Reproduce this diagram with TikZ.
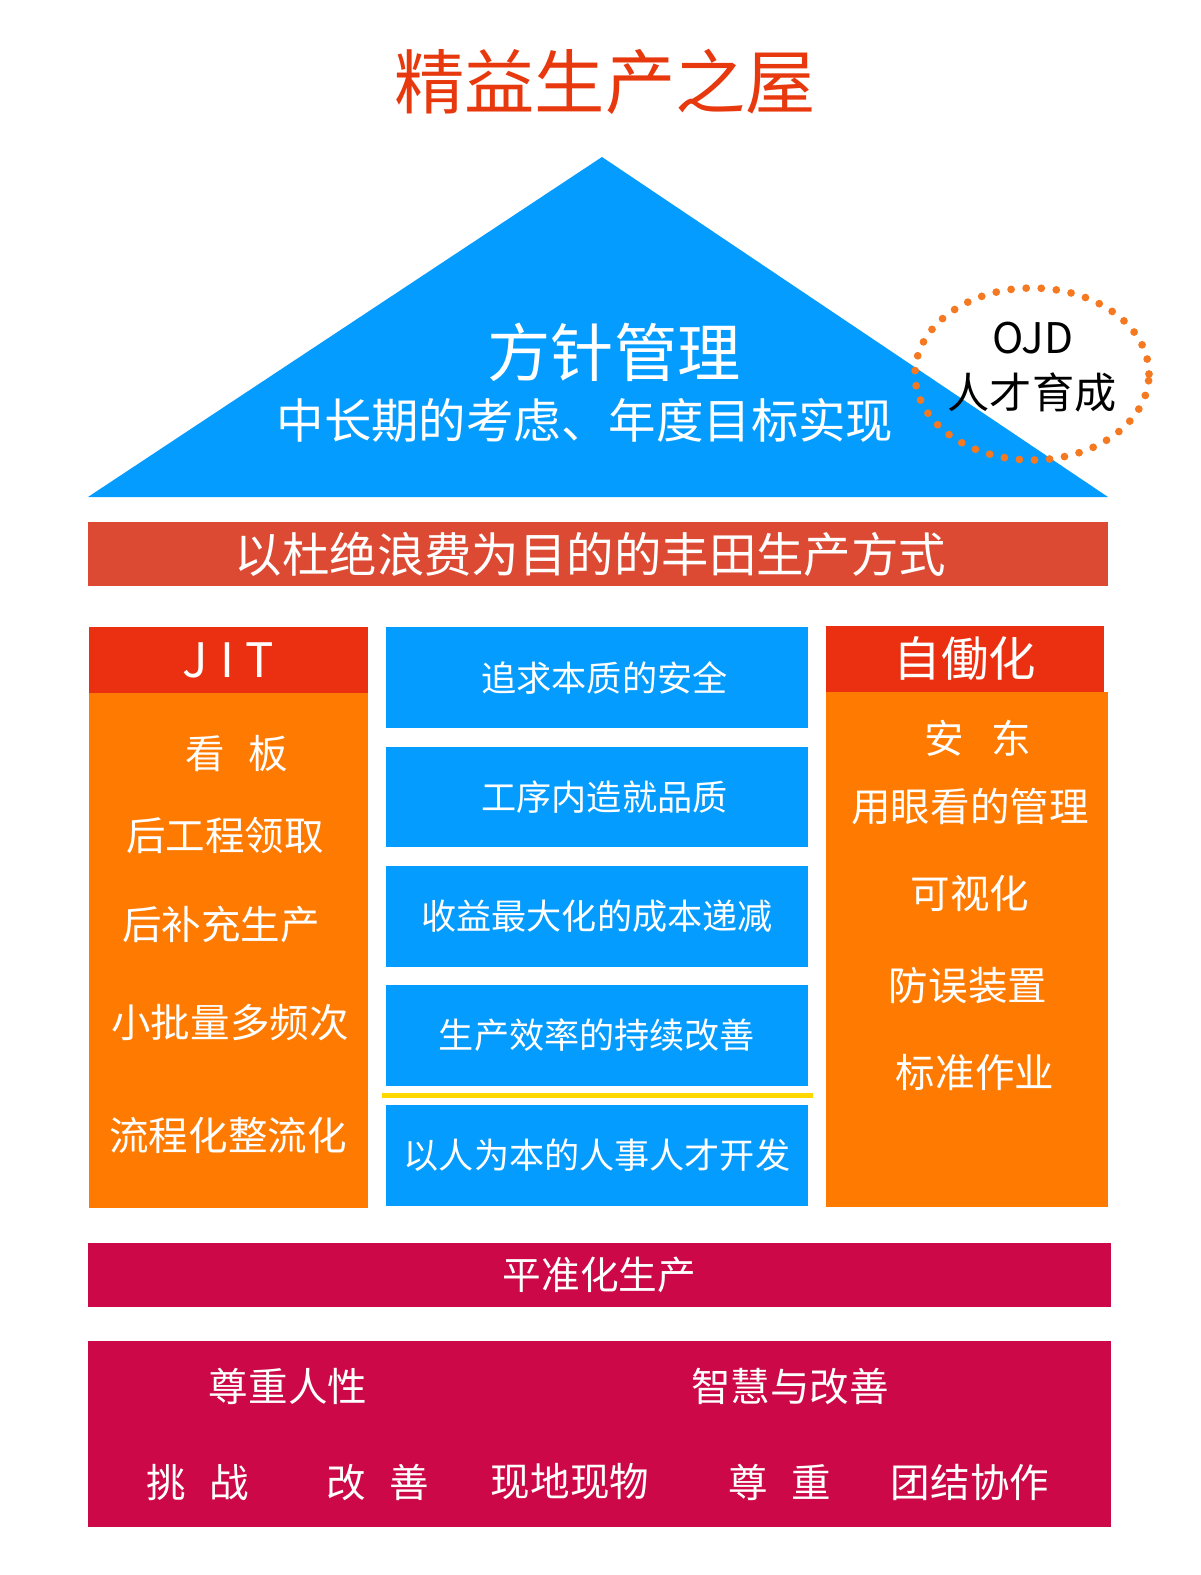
\documentclass[tikz,border=0pt]{standalone}
\usepackage{fontspec}
\setmainfont{Noto Sans CJK SC}
\usepackage{xcolor}
\usepackage{tikz}
\usetikzlibrary{positioning, shapes.geometric}
\definecolor{titlered}{HTML}{E8380D}
\definecolor{roofblue}{HTML}{049CFF}
\definecolor{beamred}{HTML}{DC4A33}
\definecolor{headred}{HTML}{EB3011}
\definecolor{pillarorange}{HTML}{FF7A00}
\definecolor{basered}{HTML}{CC0848}
\definecolor{dotorange}{HTML}{F47920}
\definecolor{lineyellow}{HTML}{FFD800}

\begin{document}
\begin{tikzpicture}[x=0.02cm, y=-0.02cm,
    every node/.style={inner sep=0pt, outer sep=0pt},
    blockbox/.style={
        rectangle, draw=none, text=white,
    },
    pillarhead/.style={
        blockbox, fill=headred,
        minimum width=5.58cm, minimum height=1.32cm,
        font=\fontsize{27}{30}\selectfont,
    },
    pillarbody/.style={
        blockbox, fill=pillarorange,
        minimum width=5.6cm, minimum height=10.3cm,
    },
    pillaritem/.style={
        text=white, font=\fontsize{22.5}{26}\selectfont,
    },
    corebox/.style={
        blockbox, fill=roofblue,
        minimum width=8.44cm, minimum height=2.02cm,
        font=\fontsize{20}{24}\selectfont,
    },
    basebar/.style={
        blockbox, fill=basered,
        minimum width=20.46cm,
    },
    baseitem/.style={
        text=white, font=\fontsize{22.5}{26}\selectfont,
    },
]
\useasboundingbox[fill=white] (0,0) rectangle (1200,1575);

% ── Title ──────────────────────────────────────────────────────────────
\node[text=titlered, font=\fontsize{40}{44}\selectfont] (title) at (605,82) {精益生产之屋};

% ── Roof ───────────────────────────────────────────────────────────────
\coordinate (apex) at (602,157);
\coordinate (roofL) at (88,497);
\coordinate (roofR) at (1108,497);
\fill[roofblue] (roofL) -- (apex) -- (roofR) -- cycle;

\node[text=white, font=\fontsize{36}{40}\selectfont] (policy) at (614,352) {方针管理};
\node[text=white, font=\fontsize{27}{30}\selectfont] (policysub) at (585,420) {中长期的考虑、年度目标实现};

% ── OJD ring ───────────────────────────────────────────────────────────
\node[ellipse, draw=dotorange, line width=4.4pt, line cap=round,
      dash pattern=on 0pt off 8.6pt,
      minimum width=4.68cm, minimum height=3.44cm] (ojd) at (1032,374) {};
\node[font=\fontsize{24}{28}\selectfont] (ojdtop) at (1033,338) {OJD};
\node[font=\fontsize{24}{28}\selectfont] (ojdbot) at (1032,392) {人才育成};

% ── Beam ───────────────────────────────────────────────────────────────
\node[blockbox, fill=beamred, minimum width=20.4cm, minimum height=1.28cm,
      font=\fontsize{27}{30}\selectfont] (beam) at (598,554) {\hspace*{-0.3cm}以杜绝浪费为目的的丰田生产方式};

% ── Left pillar: JIT ───────────────────────────────────────────────────
\node[pillarhead] (jithead) at (228.5,660) {\addfontfeature{LetterSpace=25}JIT};
\node[pillarbody, anchor=north, minimum width=5.58cm] (jitbody) at (jithead.south) {};
\node[pillaritem] (jit1) at (237,754) {看\hspace{0.6em}板};
\node[pillaritem] (jit2) at (225,836) {后工程领取};
\node[pillaritem] (jit3) at (221,925) {后补充生产};
\node[pillaritem] (jit4) at (230,1023) {小批量多频次};
\node[pillaritem] (jit5) at (228,1135) {流程化整流化};

% ── Centre boxes ───────────────────────────────────────────────────────
\node[corebox] (core1) at (597,677.5) {\hspace*{0.3cm}追求本质的安全};
\node[corebox] (core2) at (597,797) {\hspace*{0.3cm}工序内造就品质};
\node[corebox] (core3) at (597,916) {收益最大化的成本递减};
\node[corebox] (core4) at (597,1035) {生产效率的持续改善};
\node[corebox] (core5) at (597,1155.5) {以人为本的人事人才开发};
\path (core4.south west) ++(-4,10) coordinate (ylineL)
      (core4.south east) ++(5,10) coordinate (ylineR);
\draw[lineyellow, line width=3.4pt] (ylineL) -- (ylineR);

% ── Right pillar: Jidoka ───────────────────────────────────────────────
\node[pillarhead, minimum width=5.56cm] (jdkhead) at (965,659) {自働化};
\node[pillarbody, anchor=north west, minimum width=5.64cm] (jdkbody) at (jdkhead.south west) {};
\node[pillaritem] (jdk1) at (978,738) {安\hspace{0.7em}东};
\node[pillaritem] (jdk2) at (970,806) {用眼看的管理};
\node[pillaritem] (jdk3) at (970,893) {可视化};
\node[pillaritem] (jdk4) at (968,986) {防误装置};
\node[pillaritem] (jdk5) at (975,1072) {标准作业};

% ── Foundation ─────────────────────────────────────────────────────────
\node[basebar, minimum height=1.28cm, font=\fontsize{22}{26}\selectfont] (level) at (599.5,1275) {平准化生产};
\node[basebar, minimum height=3.72cm] (found) at (599.5,1434) {};
\node[baseitem] (respect) at (288,1386) {尊重人性};
\node[baseitem] (kaizen) at (790,1386) {智慧与改善};
\node[baseitem] (f1) at (198,1482) {挑\hspace{0.6em}战};
\node[baseitem] (f2) at (378,1482) {改\hspace{0.6em}善};
\node[baseitem] (f3) at (570,1482) {现地现物};
\node[baseitem] (f4) at (780,1482) {尊\hspace{0.6em}重};
\node[baseitem] (f5) at (970,1482) {团结协作};

\end{tikzpicture}
\end{document}
